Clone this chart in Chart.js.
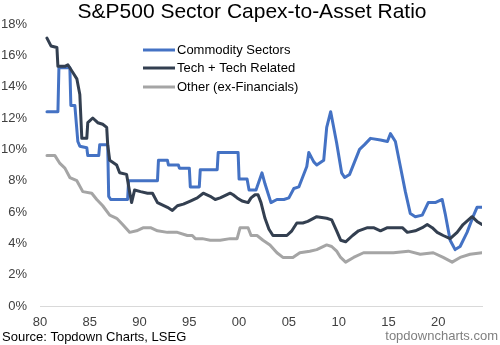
<!DOCTYPE html>
<html>
<head>
<meta charset="utf-8">
<script src="https://cdn.jsdelivr.net/npm/chart.js@4"></script>
<style>
  html, body { margin: 0; padding: 0; background: #fff; }
  #wrap { position: relative; width: 500px; height: 345px; }
</style>
</head>
<body>
<div id="wrap"><canvas id="capexChart" width="500" height="345"></canvas></div>
<script>
const seriesNames = ['Commodity Sectors', 'Tech + Tech Related', 'Other (ex-Financials)'];
const seriesColors = ['#4472C4', '#333F50', '#A5A5A5'];

const commodityYears = [1980.7, 1981.8, 1981.9, 1983.0, 1983.1, 1983.5, 1983.8, 1984.0, 1984.7, 1984.8, 1985.9, 1986.0, 1986.8, 1986.9, 1987.1, 1988.8, 1988.9, 1991.8, 1991.9, 1992.8, 1992.9, 1993.9, 1994.0, 1995.0, 1995.1, 1996.0, 1996.1, 1997.8, 1997.9, 1999.9, 2000.0, 2000.8, 2001.0, 2001.7, 2002.3, 2002.6, 2003.2, 2003.8, 2004.5, 2005.0, 2005.5, 2006.0, 2006.8, 2007.0, 2007.5, 2007.8, 2008.5, 2008.8, 2009.2, 2009.8, 2010.3, 2010.6, 2011.1, 2011.6, 2012.1, 2012.6, 2013.2, 2014.2, 2014.9, 2015.2, 2015.7, 2016.2, 2016.7, 2017.2, 2017.7, 2018.4, 2019.0, 2019.7, 2020.4, 2020.7, 2021.2, 2021.7, 2022.2, 2022.9, 2023.5, 2023.9, 2024.4];
const commodityValues = [12.4, 12.4, 15.2, 15.2, 12.8, 12.8, 10.5, 10.2, 10.1, 9.6, 9.6, 10.3, 10.3, 7.0, 6.8, 6.8, 8.0, 8.0, 9.3, 9.3, 9.0, 9.0, 8.8, 8.8, 7.6, 7.6, 8.7, 8.7, 9.8, 9.8, 8.1, 8.1, 7.4, 7.4, 8.5, 7.8, 6.6, 6.8, 6.8, 6.9, 7.5, 7.6, 8.9, 9.8, 9.2, 9.0, 9.3, 11.4, 12.4, 10.4, 8.5, 8.2, 8.4, 9.2, 10.0, 10.3, 10.7, 10.6, 10.5, 11.0, 10.5, 8.9, 7.3, 5.9, 5.7, 5.8, 6.6, 6.6, 6.8, 5.9, 4.2, 3.6, 3.8, 4.7, 5.7, 6.3, 6.3];

const techYears = [1980.7, 1981.1, 1981.7, 1981.8, 1982.5, 1982.8, 1983.3, 1983.7, 1984.0, 1984.2, 1984.7, 1984.8, 1985.3, 1985.8, 1986.3, 1986.7, 1986.8, 1987.0, 1987.7, 1988.0, 1988.7, 1989.0, 1989.2, 1989.5, 1990.1, 1990.8, 1991.3, 1991.8, 1992.8, 1993.3, 1993.8, 1994.4, 1995.1, 1995.8, 1996.4, 1997.1, 1997.6, 1998.1, 1999.1, 1999.4, 1999.8, 2000.3, 2000.9, 2001.2, 2001.6, 2001.9, 2002.2, 2002.6, 2003.0, 2003.4, 2004.1, 2004.8, 2005.3, 2005.8, 2006.4, 2006.9, 2007.8, 2008.8, 2009.3, 2009.8, 2010.2, 2010.7, 2011.4, 2012.0, 2012.9, 2013.5, 2014.2, 2014.9, 2015.7, 2016.4, 2016.9, 2017.7, 2018.4, 2018.9, 2019.4, 2019.9, 2020.5, 2021.2, 2021.9, 2022.5, 2023.4, 2023.9, 2024.4];
const techValues = [17.1, 16.6, 16.5, 15.3, 15.3, 15.4, 14.9, 14.5, 13.5, 10.7, 10.7, 11.7, 12.0, 11.7, 11.6, 11.4, 10.3, 9.3, 9.0, 8.5, 8.4, 7.3, 6.6, 7.4, 7.3, 7.2, 7.2, 6.6, 6.3, 6.1, 6.4, 6.5, 6.7, 6.9, 7.2, 7.0, 6.8, 6.9, 7.2, 7.1, 6.9, 6.7, 6.6, 6.9, 7.1, 7.1, 6.6, 5.6, 4.9, 4.5, 4.5, 4.5, 4.8, 5.3, 5.3, 5.4, 5.7, 5.6, 5.5, 4.8, 4.2, 4.1, 4.5, 4.8, 5.0, 5.0, 4.8, 5.0, 5.0, 5.0, 4.7, 4.8, 5.0, 5.2, 5.0, 4.7, 4.5, 4.3, 4.7, 5.2, 5.7, 5.4, 5.2];

const otherYears = [1980.7, 1981.5, 1982.0, 1982.5, 1983.0, 1983.7, 1984.3, 1985.2, 1985.7, 1986.3, 1987.0, 1987.7, 1988.3, 1989.0, 1989.7, 1990.4, 1991.1, 1991.8, 1992.8, 1993.8, 1994.8, 1995.3, 1995.6, 1996.3, 1997.1, 1998.1, 1999.1, 1999.8, 2000.1, 2000.9, 2001.2, 2001.8, 2002.4, 2003.1, 2003.8, 2004.4, 2005.4, 2006.1, 2007.1, 2007.8, 2008.8, 2009.3, 2009.8, 2010.2, 2010.7, 2011.5, 2012.5, 2013.9, 2015.5, 2017.0, 2018.2, 2019.5, 2020.5, 2021.4, 2022.2, 2023.2, 2024.4];
const otherValues = [9.6, 9.6, 9.1, 8.8, 8.2, 8.0, 7.3, 7.2, 6.8, 6.4, 5.8, 5.6, 5.2, 4.7, 4.8, 5.0, 5.0, 4.8, 4.7, 4.7, 4.5, 4.5, 4.3, 4.3, 4.2, 4.2, 4.3, 4.3, 5.0, 5.0, 4.5, 4.5, 4.2, 3.9, 3.4, 3.1, 3.1, 3.4, 3.5, 3.6, 3.9, 3.8, 3.5, 3.1, 2.8, 3.1, 3.4, 3.4, 3.4, 3.5, 3.3, 3.4, 3.1, 2.8, 3.1, 3.3, 3.4];

const xTickYears = [1980, 1985, 1990, 1995, 2000, 2005, 2010, 2015, 2020];
const yTickValues = [0, 2, 4, 6, 8, 10, 12, 14, 16, 18];

const FONT = '"Liberation Sans", Arial, sans-serif';

function toPoints(xs, ys) {
  return xs.map((x, i) => ({ x: x, y: ys[i] }));
}

// title, legend and footer texts
const decorations = {
  id: 'decorations',
  afterDraw(chart) {
    const ctx = chart.ctx;
    ctx.save();
    ctx.fillStyle = '#000';
    ctx.textBaseline = 'middle';
    ctx.textAlign = 'center';
    ctx.font = '21px ' + FONT;
    ctx.fillText('S&P500 Sector Capex-to-Asset Ratio', 252, 12);

    ctx.textAlign = 'left';
    ctx.font = '13px ' + FONT;
    const rows = [50, 68, 87];
    seriesNames.forEach((name, i) => {
      ctx.strokeStyle = seriesColors[i];
      ctx.lineWidth = 3;
      ctx.beginPath();
      ctx.moveTo(143, rows[i]);
      ctx.lineTo(175, rows[i]);
      ctx.stroke();
      ctx.fillStyle = '#000';
      ctx.fillText(name, 177, rows[i]);
    });

    ctx.fillText('Source: Topdown Charts, LSEG', 2, 337);
    ctx.textAlign = 'right';
    ctx.fillStyle = '#7F7F7F';
    ctx.fillText('topdowncharts.com', 498, 336);
    ctx.restore();
  }
};

// grey first, commodities last so the blue line sits on top
new Chart(document.getElementById('capexChart'), {
  type: 'line',
  data: {
    datasets: [
      { label: seriesNames[2], data: toPoints(otherYears, otherValues), borderColor: seriesColors[2] },
      { label: seriesNames[1], data: toPoints(techYears, techValues), borderColor: seriesColors[1] },
      { label: seriesNames[0], data: toPoints(commodityYears, commodityValues), borderColor: seriesColors[0] }
    ].map(ds => Object.assign(ds, {
      borderWidth: 3,
      pointRadius: 0,
      tension: 0,
      fill: false,
      borderJoinStyle: 'round',
      borderCapStyle: 'round'
    }))
  },
  options: {
    responsive: false,
    animation: false,
    layout: { padding: { top: 24, right: 18, left: 0, bottom: 0 } },
    plugins: {
      legend: { display: false },
      title: { display: false },
      tooltip: { enabled: false }
    },
    scales: {
      x: {
        type: 'linear',
        min: 1980,
        max: 2024.4,
        grid: { display: false, drawTicks: false },
        border: { display: true, color: '#D9D9D9', width: 1 },
        afterBuildTicks: (scale) => { scale.ticks = xTickYears.map(v => ({ value: v })); },
        afterFit: (scale) => { scale.height = 39; },
        ticks: {
          padding: 9,
          maxRotation: 0,
          color: '#404040',
          font: { family: FONT, size: 13 },
          callback: (v) => String(v % 100).padStart(2, '0')
        }
      },
      y: {
        min: 0,
        max: 18,
        grid: { display: false, drawTicks: false },
        border: { display: false },
        afterBuildTicks: (scale) => { scale.ticks = yTickValues.map(v => ({ value: v })); },
        afterFit: (scale) => { scale.width = 40; },
        ticks: {
          padding: 13,
          color: '#404040',
          font: { family: FONT, size: 13 },
          callback: (v) => v + '%'
        }
      }
    }
  },
  plugins: [decorations]
});
</script>
</body>
</html>
